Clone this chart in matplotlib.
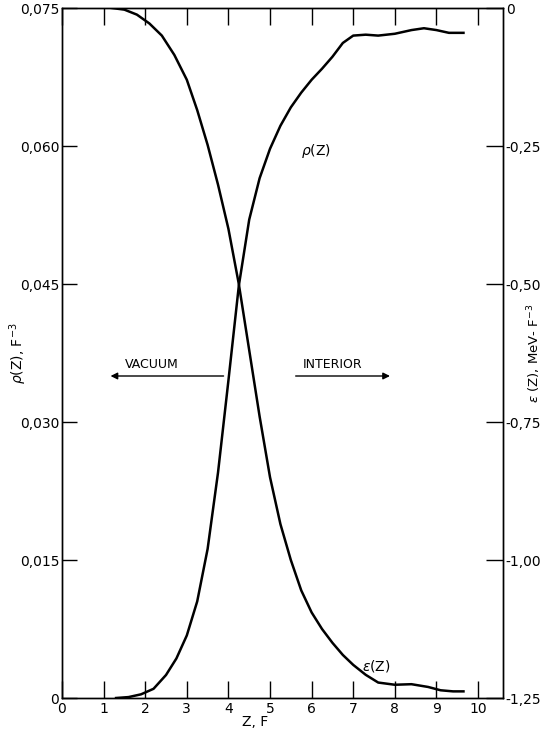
import matplotlib
matplotlib.use("Agg")
import matplotlib.pyplot as plt
from matplotlib.ticker import FixedLocator

# density rho(Z), F^-3  (left axis)
rho_z = [1.3, 1.6, 1.9, 2.2, 2.5, 2.75, 3.0, 3.25, 3.5, 3.75, 4.0, 4.25, 4.5,
         4.75, 5.0, 5.25, 5.5, 5.75, 6.0, 6.25, 6.5, 6.75, 7.0, 7.3, 7.6, 8.0,
         8.4, 8.7, 9.0, 9.3, 9.65]
rho = [0.0, 0.0001, 0.0004, 0.0010, 0.0025, 0.0043, 0.0068, 0.0105, 0.0162,
       0.0245, 0.0345, 0.0448, 0.0520, 0.0565, 0.0597, 0.0622, 0.0642, 0.0658,
       0.0672, 0.0684, 0.0697, 0.0712, 0.0720, 0.0721, 0.0720, 0.0722, 0.0726,
       0.0728, 0.0726, 0.0723, 0.0723]

# energy density eps(Z), MeV-F^-3  (right axis)
eps_z = [1.2, 1.5, 1.8, 2.1, 2.4, 2.7, 3.0, 3.25, 3.5, 3.75, 4.0, 4.25, 4.5,
         4.75, 5.0, 5.25, 5.5, 5.75, 6.0, 6.25, 6.5, 6.75, 7.0, 7.3, 7.6, 8.0,
         8.4, 8.8, 9.1, 9.4, 9.65]
eps = [0.0, -0.003, -0.012, -0.028, -0.05, -0.085, -0.13, -0.185, -0.248,
       -0.32, -0.40, -0.50, -0.62, -0.74, -0.85, -0.935, -1.0, -1.055, -1.095,
       -1.125, -1.15, -1.172, -1.19, -1.208, -1.222, -1.226, -1.225, -1.23,
       -1.236, -1.238, -1.238]

x_ticks = list(range(0, 11))
rho_ticks = [0, 0.015, 0.030, 0.045, 0.060, 0.075]
rho_labels = ["0", "0,015", "0,030", "0,045", "0,060", "0,075"]
eps_ticks = [-1.25, -1.00, -0.75, -0.50, -0.25, 0]
eps_labels = ["-1,25", "-1,00", "-0,75", "-0,50", "-0,25", "0"]

plt.rcParams['font.family'] = ['DejaVu Sans']

fig = plt.figure(figsize=(5.44, 7.31), dpi=100)
ax = fig.add_axes([62 / 544, 33 / 731, 441 / 544, 690 / 731])
ax2 = ax.twinx()

ax.plot(rho_z, rho, color='black', lw=1.8)
ax2.plot(eps_z, eps, color='black', lw=1.8)

ax.set_xlim(0, 10.6)
ax.set_ylim(0, 0.075)
ax2.set_ylim(-1.25, 0)

ax.xaxis.set_major_locator(FixedLocator(x_ticks))
ax.set_xticklabels([str(t) for t in x_ticks])
ax.set_yticks(rho_ticks)
ax.set_yticklabels(rho_labels)
ax2.set_yticks(eps_ticks)
ax2.set_yticklabels(eps_labels)

ax.tick_params(axis='x', direction='in', length=12, width=1, top=True,
               labelsize=10, pad=3)
ax.tick_params(axis='y', direction='in', length=11, width=1, labelsize=10, pad=2)
ax2.tick_params(axis='y', direction='in', length=12, width=1, labelsize=10, pad=2)

for a in (ax, ax2):
    for s in a.spines.values():
        s.set_linewidth(1.0)

# axis titles, placed where the reference has them
ax.text((255 - 62) / 441, -0.035, "Z, F", transform=ax.transAxes,
        ha='center', va='center', fontsize=10)
ax.set_ylabel(r"$\rho$(Z), F$^{-3}$", fontsize=10)
ax.yaxis.set_label_coords(-0.075, 0.5)
ax2.set_ylabel(r"$\epsilon$ (Z), MeV- F$^{-3}$", fontsize=9.5, rotation=90)
ax2.yaxis.set_label_coords(1.05, 0.5)

# curve labels
ax.text(5.75, 0.0595, r"$\rho$(Z)", fontsize=10, ha='left', va='center')
ax.text(7.2, 0.0035, r"$\epsilon$(Z)", fontsize=10, ha='left', va='center')

# region labels with arrows
ax.text(2.17, 0.0362, "VACUUM", fontsize=9, ha='center', va='center')
ax.annotate("", xy=(1.1, 0.0350), xytext=(3.95, 0.0350),
            arrowprops=dict(arrowstyle='-|>', color='black', lw=1,
                            mutation_scale=10))
ax.text(6.5, 0.0362, "INTERIOR", fontsize=9, ha='center', va='center')
ax.annotate("", xy=(7.95, 0.0350), xytext=(5.55, 0.0350),
            arrowprops=dict(arrowstyle='-|>', color='black', lw=1,
                            mutation_scale=10))

fig.savefig("out.png", dpi=100)
